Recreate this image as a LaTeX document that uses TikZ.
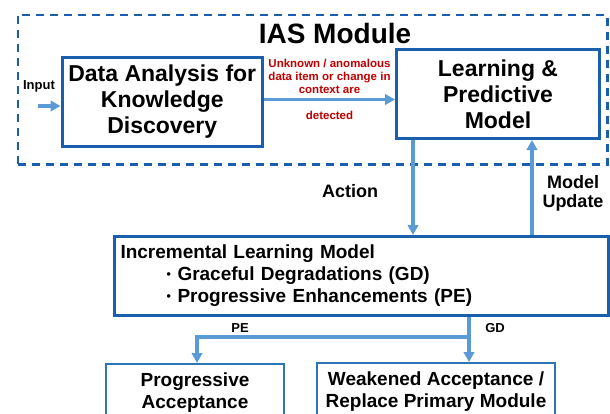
\documentclass[tikz,border=0pt]{standalone}
\usepackage{fontspec}
\setmainfont{Liberation Sans}
\usetikzlibrary{arrows.meta, positioning}
\definecolor{IASblue}{HTML}{1A5FAD}
\definecolor{IASlight}{HTML}{2E75B6}
\definecolor{IASarrow}{HTML}{5B9BD5}
\definecolor{IASred}{HTML}{C00000}
\newcommand{\itemdot}{\hspace*{46pt}\makebox[11pt][l]{\raisebox{2pt}{\scalebox{0.65}{\textbullet}}}}

\begin{document}
\begin{tikzpicture}[x=1pt, y=-1pt,
   block/.style={draw=IASblue, line width=3pt, fill=white, anchor=north west,
      align=center, inner sep=0pt, font=\fontsize{23}{26}\selectfont\bfseries},
   outcome/.style={draw=IASlight, line width=2pt, anchor=north west, align=center,
      inner xsep=0pt, inner ysep=9pt, font=\fontsize{19}{22}\selectfont\bfseries},
   flow/.style={draw=IASarrow, line width=3.2pt, -{Triangle[length=10pt, width=10.5pt]}},
   lbl/.style={font=\fontsize{18}{19}\selectfont\bfseries, align=center},
   small/.style={font=\fontsize{13}{14}\selectfont\bfseries}]
   \clip (0,0) rectangle (610,413);
   % IAS module frame
   \node[draw=IASblue, line width=2.6pt, dash pattern=on 8pt off 6pt, anchor=north west,
      minimum width=589.5pt, minimum height=149.5pt, inner sep=0pt] (ias) at (16.5,13.5) {};
   \node[font=\fontsize{28}{30}\selectfont\bfseries] (title) at (335,33) {IAS Module};
   % Main blocks
   \node[block, minimum width=200.5pt, minimum height=89pt] (data) at (60.5,56)
      {Data Analysis for\\Knowledge\\Discovery};
   \node[block, minimum width=203pt, minimum height=89pt] (learn) at (395,48)
      {Learning \&\\Predictive\\Model};
   \node[block, minimum width=494pt, minimum height=79pt, align=left, inner xsep=6pt,
      text width=482pt, font=\fontsize{19}{22}\selectfont\bfseries] (ilm) at (113,235)
      {Incremental Learning Model\\
       \itemdot Graceful Degradations (GD)\\
       \itemdot Progressive Enhancements (PE)};
   \node[outcome, minimum width=178pt] (accept) at (105,363) {Progressive\\Acceptance\\~};
   \node[outcome, minimum width=238pt] (weak) at (316,362)
      {Weakened Acceptance /\\Replace Primary Module\\~};
   % Arrow columns
   \coordinate (in) at (38,106);
   \coordinate (act) at (413,0);
   \coordinate (upd) at (532,0);
   \coordinate (gd) at (469,0);
   \coordinate (pe) at (197,0);
   \coordinate (split) at (469,337);
   % Input and detection
   \node[small] (input) at (39,86) {Input};
   \draw[flow] (in) -- (in -| data.west);
   \draw[flow] ([yshift=2.5pt]data.east) coordinate (d) -- (d -| learn.west)
      node[midway, above=1pt, text=IASred, align=center,
         font=\fontsize{11.5}{13}\selectfont\bfseries] (unknown)
         {Unknown / anomalous\\data item or change in\\context are}
      node[midway, below=7pt, text=IASred,
         font=\fontsize{11.5}{13}\selectfont\bfseries] (detected) {detected};
   % Action and model update
   \draw[flow] (act |- learn.south) -- (act |- ilm.north);
   \draw[flow] (upd |- ilm.north) -- (upd |- learn.south);
   \node[lbl] (action) at (350,191) {Action};
   \node[lbl] (update) at (573,193) {Model\\Update};
   % GD / PE branches
   \draw[flow] (gd |- ilm.south) -- (gd |- weak.north);
   \draw[flow] (split) -| (pe |- accept.north);
   \node[small] (pelbl) at (240,328) {PE};
   \node[small] (gdlbl) at (495,328) {GD};
\end{tikzpicture}
\end{document}
